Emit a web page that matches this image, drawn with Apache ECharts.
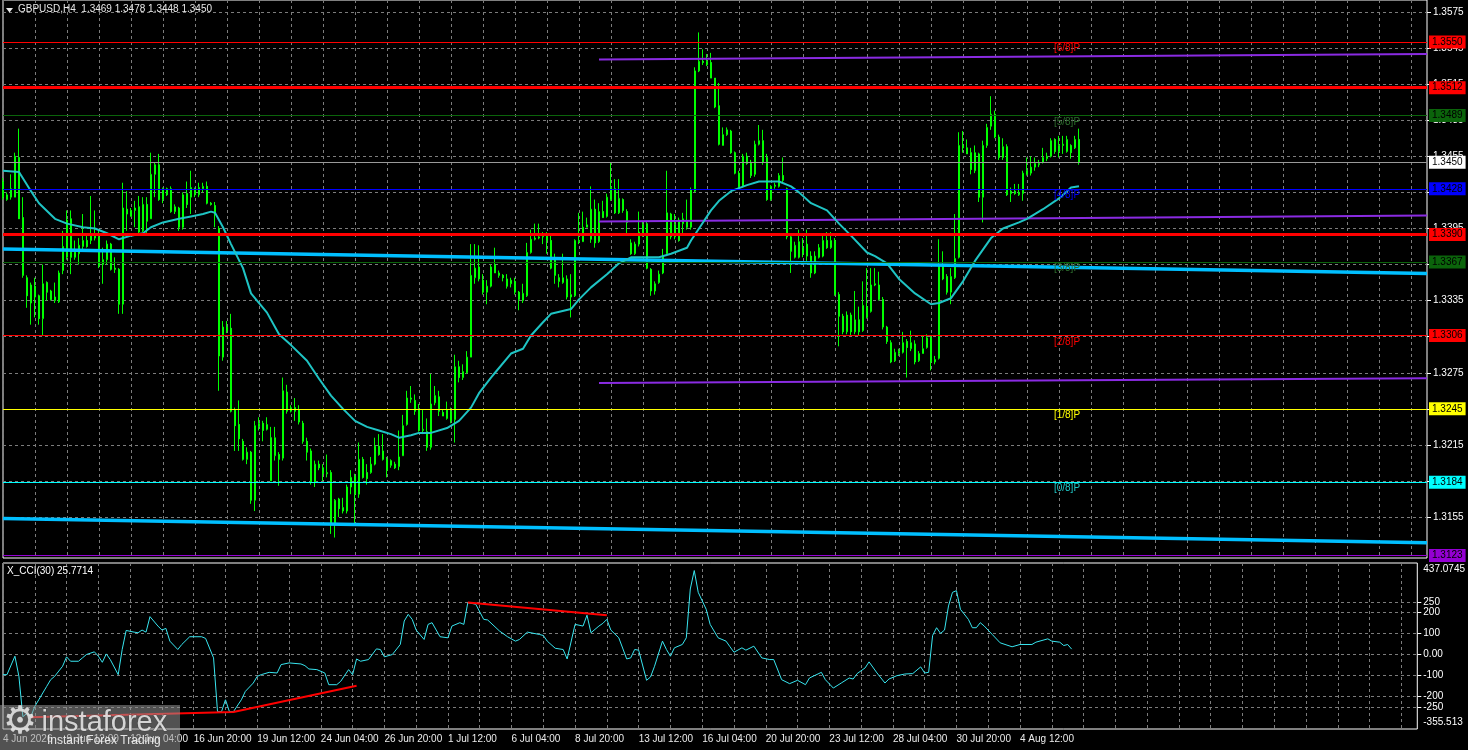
<!DOCTYPE html>
<html><head><meta charset="utf-8">
<script src="https://cdn.jsdelivr.net/npm/echarts@6/dist/echarts.min.js"></script>
<style>html,body{margin:0;padding:0;background:#000;overflow:hidden}#c{width:1468px;height:750px}</style>
</head><body><div id="c"></div>
<script>
// ---------- DATA ----------
const symbolTitle = 'GBPUSD,H4  1.3469 1.3478 1.3448 1.3450';
const cciTitle = 'X_CCI(30) 25.7714';
const slotCount = 357; // bars + empty right shift area
const timeLabels = ['4 Jun 2026','9 Jun 12:00','12 Jun 04:00','16 Jun 20:00','19 Jun 12:00','24 Jun 04:00','26 Jun 20:00','1 Jul 12:00','6 Jul 04:00','8 Jul 20:00','13 Jul 12:00','16 Jul 04:00','20 Jul 20:00','23 Jul 12:00','28 Jul 04:00','30 Jul 20:00','4 Aug 12:00'];
const opens = [1.3434,1.3419,1.3421,1.3421,1.3454,1.3404,1.3354,1.3333,1.3347,1.3339,
1.3320,1.3350,1.3343,1.3335,1.3334,1.3360,1.3371,1.3403,1.3371,1.3374,
1.3380,1.3385,1.3385,1.3389,1.3388,1.3365,1.3369,1.3382,1.3362,1.3361,
1.3332,1.3411,1.3405,1.3410,1.3413,1.3393,1.3415,1.3403,1.3440,1.3448,
1.3419,1.3428,1.3428,1.3409,1.3412,1.3396,1.3424,1.3421,1.3427,1.3423,
1.3428,1.3430,1.3416,1.3414,1.3395,1.3288,1.3313,1.3312,1.3244,1.3232,
1.3218,1.3203,1.3209,1.3169,1.3230,1.3233,1.3228,1.3221,1.3206,1.3207,
1.3204,1.3259,1.3243,1.3246,1.3244,1.3233,1.3218,1.3210,1.3184,1.3199,
1.3196,1.3191,1.3192,1.3149,1.3170,1.3160,1.3160,1.3180,1.3189,1.3174,
1.3203,1.3192,1.3192,1.3199,1.3214,1.3210,1.3203,1.3198,1.3199,1.3197,
1.3206,1.3232,1.3253,1.3252,1.3244,1.3227,1.3226,1.3213,1.3250,1.3255,
1.3242,1.3237,1.3243,1.3236,1.3280,1.3271,1.3275,1.3288,1.3354,1.3363,
1.3352,1.3342,1.3347,1.3365,1.3358,1.3356,1.3353,1.3349,1.3351,1.3342,
1.3335,1.3339,1.3375,1.3386,1.3387,1.3388,1.3389,1.3385,1.3369,1.3354,
1.3350,1.3353,1.3338,1.3339,1.3384,1.3384,1.3396,1.3386,1.3411,1.3384,
1.3409,1.3405,1.3419,1.3428,1.3408,1.3419,1.3409,1.3383,1.3374,1.3382,
1.3390,1.3399,1.3361,1.3343,1.3350,1.3358,1.3374,1.3407,1.3388,1.3402,
1.3399,1.3401,1.3396,1.3426,1.3526,1.3534,1.3531,1.3533,1.3520,1.3497,
1.3464,1.3473,1.3476,1.3458,1.3441,1.3430,1.3455,1.3450,1.3440,1.3465,
1.3468,1.3454,1.3419,1.3430,1.3430,1.3439,1.3428,1.3388,1.3371,1.3371,
1.3379,1.3372,1.3372,1.3358,1.3371,1.3372,1.3385,1.3379,1.3385,1.3340,
1.3322,1.3309,1.3323,1.3309,1.3319,1.3310,1.3330,1.3326,1.3348,1.3348,
1.3336,1.3313,1.3300,1.3285,1.3291,1.3292,1.3301,1.3295,1.3299,1.3285,
1.3291,1.3296,1.3304,1.3284,1.3287,1.3364,1.3355,1.3342,1.3354,1.3371,
1.3464,1.3462,1.3458,1.3443,1.3457,1.3421,1.3464,1.3480,1.3490,1.3471,
1.3454,1.3463,1.3424,1.3426,1.3423,1.3424,1.3440,1.3441,1.3446,1.3448,
1.3450,1.3453,1.3455,1.3469,1.3459,1.3464,1.3459,1.3464,1.3462,1.3469];
const closes = [1.3421,1.3423,1.3428,1.3455,1.3403,1.3356,1.3339,1.3348,1.3338,1.3320,
1.3349,1.3342,1.3336,1.3338,1.3358,1.3380,1.3402,1.3371,1.3376,1.3381,
1.3385,1.3380,1.3389,1.3387,1.3364,1.3369,1.3382,1.3361,1.3361,1.3332,
1.3412,1.3407,1.3410,1.3412,1.3392,1.3415,1.3401,1.3440,1.3448,1.3419,
1.3428,1.3423,1.3409,1.3413,1.3396,1.3423,1.3415,1.3429,1.3423,1.3429,
1.3430,1.3416,1.3415,1.3408,1.3289,1.3313,1.3310,1.3243,1.3231,1.3220,
1.3203,1.3209,1.3169,1.3231,1.3233,1.3227,1.3232,1.3185,1.3221,1.3203,
1.3260,1.3243,1.3246,1.3243,1.3234,1.3218,1.3209,1.3184,1.3199,1.3196,
1.3191,1.3192,1.3149,1.3169,1.3162,1.3163,1.3180,1.3188,1.3174,1.3203,
1.3188,1.3187,1.3199,1.3214,1.3207,1.3203,1.3194,1.3202,1.3196,1.3205,
1.3231,1.3254,1.3254,1.3243,1.3227,1.3228,1.3213,1.3249,1.3256,1.3243,
1.3239,1.3244,1.3235,1.3280,1.3271,1.3276,1.3288,1.3356,1.3362,1.3353,
1.3342,1.3347,1.3363,1.3358,1.3356,1.3354,1.3347,1.3352,1.3342,1.3336,
1.3341,1.3375,1.3386,1.3387,1.3388,1.3390,1.3385,1.3362,1.3356,1.3351,
1.3354,1.3338,1.3340,1.3385,1.3385,1.3396,1.3398,1.3411,1.3383,1.3409,
1.3404,1.3421,1.3429,1.3408,1.3420,1.3410,1.3400,1.3374,1.3382,1.3392,
1.3398,1.3362,1.3343,1.3349,1.3357,1.3372,1.3408,1.3388,1.3398,1.3385,
1.3403,1.3396,1.3427,1.3526,1.3534,1.3533,1.3534,1.3520,1.3496,1.3465,
1.3473,1.3477,1.3458,1.3441,1.3429,1.3455,1.3449,1.3439,1.3465,1.3468,
1.3450,1.3419,1.3430,1.3431,1.3439,1.3435,1.3388,1.3376,1.3381,1.3384,
1.3374,1.3382,1.3358,1.3372,1.3379,1.3385,1.3379,1.3385,1.3340,1.3322,
1.3309,1.3323,1.3309,1.3319,1.3309,1.3331,1.3321,1.3348,1.3349,1.3336,
1.3313,1.3301,1.3284,1.3292,1.3293,1.3300,1.3296,1.3300,1.3284,1.3291,
1.3295,1.3304,1.3284,1.3286,1.3365,1.3353,1.3342,1.3355,1.3370,1.3464,
1.3462,1.3457,1.3444,1.3458,1.3421,1.3464,1.3479,1.3490,1.3471,1.3454,
1.3463,1.3423,1.3426,1.3424,1.3425,1.3441,1.3443,1.3446,1.3449,1.3449,
1.3454,1.3455,1.3468,1.3459,1.3464,1.3465,1.3469,1.3458,1.3469,1.3450];
const lows = [1.3419,1.3418,1.3419,1.3421,1.3403,1.3354,1.3329,1.3315,1.3321,1.3315,
1.3306,1.3335,1.3335,1.3333,1.3333,1.3357,1.3369,1.3357,1.3369,1.3365,
1.3376,1.3379,1.3382,1.3385,1.3362,1.3349,1.3365,1.3360,1.3358,1.3324,
1.3324,1.3393,1.3405,1.3396,1.3391,1.3392,1.3390,1.3403,1.3421,1.3418,
1.3416,1.3422,1.3408,1.3407,1.3393,1.3394,1.3412,1.3407,1.3421,1.3421,
1.3425,1.3415,1.3414,1.3396,1.3260,1.3285,1.3308,1.3242,1.3210,1.3210,
1.3202,1.3199,1.3166,1.3160,1.3227,1.3218,1.3227,1.3185,1.3202,1.3181,
1.3202,1.3241,1.3242,1.3235,1.3232,1.3216,1.3202,1.3182,1.3180,1.3194,
1.3185,1.3188,1.3141,1.3138,1.3155,1.3158,1.3158,1.3174,1.3149,1.3171,
1.3187,1.3182,1.3191,1.3198,1.3206,1.3202,1.3188,1.3196,1.3195,1.3194,
1.3206,1.3231,1.3250,1.3240,1.3226,1.3224,1.3210,1.3211,1.3248,1.3239,
1.3239,1.3236,1.3233,1.3217,1.3267,1.3269,1.3274,1.3288,1.3349,1.3351,
1.3340,1.3332,1.3346,1.3358,1.3354,1.3351,1.3345,1.3346,1.3340,1.3327,
1.3333,1.3338,1.3374,1.3385,1.3386,1.3382,1.3374,1.3361,1.3349,1.3346,
1.3349,1.3336,1.3321,1.3338,1.3382,1.3384,1.3396,1.3383,1.3379,1.3383,
1.3404,1.3404,1.3418,1.3407,1.3407,1.3408,1.3391,1.3373,1.3373,1.3380,
1.3388,1.3361,1.3339,1.3340,1.3349,1.3357,1.3372,1.3386,1.3386,1.3384,
1.3391,1.3394,1.3394,1.3425,1.3525,1.3531,1.3530,1.3520,1.3495,1.3464,
1.3464,1.3472,1.3457,1.3440,1.3429,1.3429,1.3448,1.3437,1.3438,1.3464,
1.3448,1.3418,1.3418,1.3428,1.3429,1.3433,1.3386,1.3358,1.3370,1.3370,
1.3371,1.3368,1.3354,1.3357,1.3370,1.3371,1.3378,1.3378,1.3339,1.3297,
1.3307,1.3307,1.3306,1.3307,1.3306,1.3309,1.3320,1.3325,1.3347,1.3335,
1.3311,1.3299,1.3283,1.3284,1.3289,1.3291,1.3271,1.3293,1.3282,1.3284,
1.3291,1.3295,1.3277,1.3282,1.3286,1.3352,1.3340,1.3332,1.3353,1.3370,
1.3458,1.3457,1.3440,1.3441,1.3417,1.3400,1.3462,1.3477,1.3470,1.3452,
1.3452,1.3422,1.3417,1.3423,1.3422,1.3418,1.3439,1.3439,1.3443,1.3446,
1.3449,1.3451,1.3454,1.3457,1.3454,1.3457,1.3458,1.3453,1.3461,1.3448];
const highs = [1.3437,1.3425,1.3440,1.3458,1.3478,1.3421,1.3356,1.3350,1.3354,1.3340,
1.3365,1.3351,1.3344,1.3350,1.3360,1.3393,1.3410,1.3410,1.3385,1.3387,
1.3407,1.3390,1.3422,1.3410,1.3394,1.3379,1.3385,1.3383,1.3371,1.3362,
1.3433,1.3426,1.3412,1.3418,1.3422,1.3421,1.3421,1.3458,1.3450,1.3457,
1.3429,1.3429,1.3430,1.3415,1.3413,1.3425,1.3434,1.3443,1.3429,1.3433,
1.3433,1.3434,1.3417,1.3417,1.3397,1.3318,1.3318,1.3324,1.3246,1.3252,
1.3220,1.3213,1.3210,1.3235,1.3238,1.3235,1.3238,1.3230,1.3230,1.3209,
1.3271,1.3265,1.3248,1.3254,1.3248,1.3235,1.3221,1.3212,1.3202,1.3202,
1.3199,1.3207,1.3194,1.3170,1.3171,1.3171,1.3182,1.3194,1.3191,1.3217,
1.3205,1.3199,1.3205,1.3221,1.3224,1.3224,1.3205,1.3203,1.3201,1.3227,
1.3240,1.3260,1.3264,1.3257,1.3249,1.3244,1.3237,1.3274,1.3264,1.3260,
1.3244,1.3251,1.3246,1.3290,1.3285,1.3282,1.3293,1.3382,1.3382,1.3381,
1.3357,1.3352,1.3365,1.3379,1.3360,1.3357,1.3357,1.3354,1.3354,1.3343,
1.3349,1.3383,1.3394,1.3399,1.3399,1.3392,1.3392,1.3390,1.3374,1.3357,
1.3374,1.3356,1.3357,1.3386,1.3408,1.3409,1.3404,1.3430,1.3419,1.3416,
1.3418,1.3424,1.3450,1.3436,1.3436,1.3420,1.3411,1.3386,1.3384,1.3409,
1.3401,1.3401,1.3362,1.3351,1.3360,1.3378,1.3443,1.3408,1.3407,1.3404,
1.3408,1.3419,1.3429,1.3529,1.3558,1.3544,1.3540,1.3541,1.3520,1.3516,
1.3479,1.3479,1.3477,1.3459,1.3443,1.3457,1.3458,1.3452,1.3468,1.3481,
1.3477,1.3457,1.3431,1.3433,1.3441,1.3454,1.3429,1.3389,1.3384,1.3394,
1.3387,1.3394,1.3376,1.3376,1.3382,1.3389,1.3392,1.3392,1.3387,1.3342,
1.3324,1.3326,1.3325,1.3343,1.3330,1.3351,1.3362,1.3362,1.3362,1.3359,
1.3338,1.3314,1.3302,1.3295,1.3295,1.3309,1.3303,1.3310,1.3302,1.3293,
1.3306,1.3307,1.3306,1.3289,1.3386,1.3376,1.3357,1.3362,1.3407,1.3475,
1.3476,1.3469,1.3462,1.3464,1.3458,1.3468,1.3482,1.3505,1.3493,1.3473,
1.3470,1.3465,1.3429,1.3432,1.3432,1.3443,1.3454,1.3455,1.3454,1.3452,
1.3462,1.3458,1.3470,1.3470,1.3472,1.3472,1.3472,1.3465,1.3472,1.3478];
// moving average: [bar, price]
const maPoints = [[0,1.3443],[4,1.3442],[7,1.3426],[9,1.3416],[13,1.3403],[16,1.3399],[20,1.3396],[23,1.3395],[26,1.3391],[29,1.3386],[32,1.3389],[35,1.3391],[37,1.3396],[40,1.3400],[44,1.3403],[47,1.3405],[50,1.3407],[52,1.3409],[53,1.3408],[55,1.3396],[57,1.3382],[60,1.3362],[62,1.3341],[66,1.3325],[69,1.3307],[72,1.3298],[76,1.3285],[79,1.3270],[82,1.3256],[85,1.3245],[88,1.3235],[91,1.3230],[94,1.3227],[97,1.3224],[99,1.3221],[102,1.3223],[104,1.3225],[107,1.3225],[111,1.3229],[114,1.3235],[117,1.3246],[119,1.3258],[122,1.3271],[123,1.3275],[127,1.3291],[130,1.3295],[132,1.3306],[135,1.3317],[137,1.3324],[142,1.3328],[144,1.3336],[147,1.3346],[151,1.3357],[154,1.3366],[157,1.3371],[161,1.3371],[164,1.3371],[167,1.3374],[171,1.3379],[172,1.3385],[174,1.3395],[177,1.3410],[179,1.3418],[182,1.3426],[186,1.3431],[189,1.3434],[194,1.3434],[197,1.3430],[199,1.3425],[202,1.3416],[206,1.3410],[209,1.3399],[212,1.3389],[216,1.3375],[218,1.3372],[221,1.3366],[224,1.3353],[228,1.3341],[232,1.3332],[234,1.3333],[237,1.3337],[240,1.3351],[243,1.3368],[247,1.3387],[250,1.3395],[254,1.3400],[256,1.3403],[260,1.3411],[264,1.3420],[267,1.3429],[269,1.3430]];
// CCI(30): [bar, value]
const cciPoints = [[0,-96],[1,-96],[3,-8],[4,-104],[5,-297],[6,-281],[7,-297],[8,-248],[9,-216],[11,-152],[12,-120],[13,-104],[15,-56],[16,-11],[17,-32],[19,-32],[20,-16],[21,0],[23,13],[24,-8],[25,-37],[26,3],[27,-24],[29,-96],[30,24],[31,115],[33,107],[34,104],[35,117],[36,107],[37,181],[39,136],[40,117],[41,125],[42,64],[44,24],[45,48],[47,85],[50,85],[51,77],[53,-16],[54,-273],[55,-273],[56,-216],[57,-273],[58,-273],[60,-216],[61,-176],[63,-136],[64,-104],[65,-96],[67,-85],[69,-88],[70,-48],[72,-40],[75,-45],[76,-53],[77,-69],[79,-72],[81,-88],[82,-144],[84,-144],[85,-128],[87,-72],[88,-96],[89,-21],[90,-32],[92,-24],[94,27],[95,24],[96,-11],[98,0],[100,48],[101,160],[102,192],[103,168],[104,117],[106,72],[107,144],[108,152],[110,85],[112,80],[113,136],[115,152],[116,144],[117,248],[119,240],[121,168],[122,165],[125,112],[127,85],[129,64],[130,72],[132,107],[135,96],[136,91],[137,64],[139,30],[141,24],[142,-21],[144,144],[146,136],[147,188],[148,104],[150,136],[151,149],[152,168],[153,117],[155,80],[157,-21],[158,-16],[159,24],[160,21],[162,-123],[163,-107],[164,-56],[166,64],[167,24],[168,-8],[169,32],[171,48],[172,80],[173,313],[174,401],[175,297],[177,216],[178,144],[180,80],[182,64],[183,37],[184,11],[186,32],[187,21],[189,40],[191,-16],[193,-24],[194,-24],[196,-120],[198,-139],[200,-123],[202,-144],[203,-112],[206,-85],[207,-120],[209,-160],[211,-136],[213,-112],[214,-117],[215,-91],[217,-64],[218,-35],[220,-88],[222,-136],[223,-117],[225,-101],[227,-93],[229,-91],[231,-59],[232,-88],[233,-85],[234,91],[235,128],[236,101],[237,117],[238,232],[239,297],[240,305],[241,216],[243,168],[244,128],[245,128],[246,152],[247,136],[249,96],[251,56],[254,37],[256,48],[259,48],[260,59],[263,75],[264,64],[266,59],[267,43],[268,48],[269,25.7714]];
const cciDivergenceLow = [[7,-300],[58,-274],[89,-149]];
const cciDivergenceHigh = [[117,248],[152,188]];
const priceTicks = [1.3155,1.3185,1.3215,1.3245,1.3275,1.3305,1.3335,1.3365,1.3395,1.3425,1.3455,1.3485,1.3515,1.3545,1.3575];
const priceRange = [1.312097, 1.358496];
const cciTicks = [-250,-200,-100,0,100,200,250];
const cciRange = [-355.513, 437.0745];
const levelValues = [1.3550,1.3512,1.3489,1.3450,1.3428,1.3390,1.3367,1.3306,1.3245,1.3184,1.3123];
const murreyNames = ['[6/8]P','[5/8]P','[4/8]P','[3/8]P','[2/8]P','[1/8]P','[0/8]P'];
const murreyValues = [1.3550,1.3489,1.3428,1.3367,1.3306,1.3245,1.3184];
const trendUpper = [[0,1.33780],[356,1.33575]];
const trendLower = [[0,1.31539],[356,1.31337]];
const channelTop = [[149,1.35354],[356,1.35401]];
const channelMid = [[149,1.34007],[356,1.34057]];
const channelBottom = [[149,1.32665],[356,1.32704]];

// ---------- STYLES ----------
const FONT = '"Liberation Sans", Arial, sans-serif';
const levelStyles = [
  {line:'#ff0000', w:1, box:'#ff0000'},
  {line:'#ff0000', w:3, box:'#ff0000'},
  {line:'#0b640b', w:1, box:'#0b640b'},
  {line:'#9a9a9a', w:1, box:'#ffffff'},
  {line:'#0000ff', w:1, box:'#0000ff'},
  {line:'#ff0000', w:3, box:'#ff0000'},
  {line:'#0b640b', w:1, box:'#0b640b'},
  {line:'#ff0000', w:1, box:'#ff0000'},
  {line:'#ffff00', w:1, box:'#ffff00'},
  {line:'#00ffff', w:1, box:'#00ffff'},
  {line:'#9400d3', w:1, box:'#9400d3'}
];
const murreyColors = ['#ff0000','#2d6e2d','#0000ff','#2d6e2d','#ff0000','#ffff00','#20c8c8'];
const gridLine = {color:'#7c7c7c', type:[3,3], width:1};

const cats = Array.from({length: slotCount}, (_, i) => String(i));
const candleData = opens.map((o, i) => [o, closes[i], lows[i], highs[i]]);
const vSplit = (i) => i % 8 === 0;
const labelShown = (i) => i % 16 === 0 && i / 16 < timeLabels.length;

const markLineData = levelValues.map((v, k) => ({
  yAxis: v,
  lineStyle: {color: levelStyles[k].line, width: levelStyles[k].w, type: 'solid'},
  label: {show: true, position: 'end', distance: 2, formatter: v.toFixed(4),
    color: '#000', backgroundColor: levelStyles[k].box, padding: [2,3,1,3],
    fontSize: 10, fontFamily: FONT}
}));
const markPointData = murreyValues.map((v, k) => ({
  coord: [266, v],
  label: {show: true, position: 'bottom', distance: 1, formatter: murreyNames[k],
    color: murreyColors[k], fontSize: 10, fontFamily: FONT}
}));

const chart = echarts.init(document.getElementById('c'), null, {renderer: 'canvas'});
chart.setOption({
  backgroundColor: '#000',
  animation: false,
  grid: [
    {left: 3, right: 41, top: -1, height: 559, show: true, borderColor: '#ffffff', borderWidth: 1, backgroundColor: 'transparent'},
    {left: 3, right: 41, top: 563, height: 166, show: true, borderColor: '#ffffff', borderWidth: 1, backgroundColor: 'transparent'}
  ],
  xAxis: [
    {type: 'category', gridIndex: 0, data: cats, boundaryGap: false,
      axisLine: {show: false}, axisTick: {show: false}, axisLabel: {show: false},
      splitLine: {show: true, interval: vSplit, lineStyle: gridLine}},
    {type: 'category', gridIndex: 1, data: cats, boundaryGap: false,
      axisLine: {show: false}, axisTick: {show: false},
      axisLabel: {show: true, interval: labelShown, align: 'left', margin: 5,
        color: '#ececec', fontSize: 10, fontFamily: FONT,
        formatter: (v, i) => timeLabels[Math.round(i / 16)] || ''},
      splitLine: {show: true, interval: vSplit, lineStyle: gridLine}}
  ],
  yAxis: [
    {type: 'value', gridIndex: 0, position: 'right', min: priceRange[0], max: priceRange[1],
      axisLine: {show: false},
      axisTick: {show: true, customValues: priceTicks, length: 4, lineStyle: {color: '#fff'}},
      axisLabel: {show: true, customValues: priceTicks, margin: 6, color: '#fff', fontSize: 10, fontFamily: FONT,
        formatter: (v) => Number(v).toFixed(4)},
      splitLine: {show: true, lineStyle: gridLine}},
    {type: 'value', gridIndex: 1, position: 'right', min: cciRange[0], max: cciRange[1],
      axisLine: {show: false},
      axisTick: {show: true, customValues: cciTicks, length: 4, lineStyle: {color: '#fff'}},
      axisLabel: {show: true, customValues: [cciRange[0]].concat(cciTicks, [cciRange[1]]), margin: 6,
        color: '#fff', fontSize: 10, fontFamily: FONT,
        formatter: (v) => {
          if (Math.abs(v - cciRange[1]) < 1e-6) return '{t|' + cciRange[1] + '}';
          if (Math.abs(v - cciRange[0]) < 1e-6) return '{b|' + cciRange[0] + '}';
          if (v === 0) return '0.00';
          return String(v);
        },
        rich: {
          t: {padding: [13,0,0,0], color: '#fff', fontSize: 10, fontFamily: FONT},
          b: {padding: [0,0,13,0], color: '#fff', fontSize: 10, fontFamily: FONT}
        }},
      splitLine: {show: true, lineStyle: gridLine}}
  ],
  series: [
    {type: 'candlestick', xAxisIndex: 0, yAxisIndex: 0, data: candleData, barWidth: 2,
      itemStyle: {color: '#000000', color0: '#ffffff', borderColor: '#00ff00', borderColor0: '#00ff00', borderColorDoji: '#00ff00', borderWidth: 1},
      markLine: {silent: true, symbol: 'none', animation: false, precision: 6, data: markLineData},
      markPoint: {silent: true, symbol: 'rect', symbolSize: 1, itemStyle: {color: 'rgba(0,0,0,0)'}, data: markPointData}
    },
    {type: 'line', xAxisIndex: 0, yAxisIndex: 0, data: trendUpper, symbol: 'none', silent: true,
      lineStyle: {color: '#00bfff', width: 3.5}},
    {type: 'line', xAxisIndex: 0, yAxisIndex: 0, data: trendLower, symbol: 'none', silent: true,
      lineStyle: {color: '#00bfff', width: 3.5}},
    {type: 'line', xAxisIndex: 0, yAxisIndex: 0, data: channelTop, symbol: 'none', silent: true,
      lineStyle: {color: '#8a2be2', width: 2}},
    {type: 'line', xAxisIndex: 0, yAxisIndex: 0, data: channelMid, symbol: 'none', silent: true,
      lineStyle: {color: '#8a2be2', width: 2}},
    {type: 'line', xAxisIndex: 0, yAxisIndex: 0, data: channelBottom, symbol: 'none', silent: true,
      lineStyle: {color: '#8a2be2', width: 2}},
    {type: 'line', xAxisIndex: 0, yAxisIndex: 0, data: maPoints, symbol: 'none', silent: true,
      lineStyle: {color: '#1fc4c4', width: 2}},
    {type: 'line', xAxisIndex: 1, yAxisIndex: 1, data: cciPoints, symbol: 'none', silent: true,
      lineStyle: {color: '#38e6f0', width: 1}},
    {type: 'line', xAxisIndex: 1, yAxisIndex: 1, data: cciDivergenceLow, symbol: 'none', silent: true,
      lineStyle: {color: '#ff0000', width: 2}},
    {type: 'line', xAxisIndex: 1, yAxisIndex: 1, data: cciDivergenceHigh, symbol: 'none', silent: true,
      lineStyle: {color: '#ff0000', width: 2}}
  ],
  graphic: [
    {type: 'polygon', shape: {points: [[6,8],[13,8],[9.5,12.5]]}, style: {fill: '#e8e8e8'}, z: 100},
    {type: 'text', left: 18, top: 4, style: {text: symbolTitle, fill: '#e8e8e8', fontSize: 10, fontFamily: FONT}, z: 100},
    {type: 'text', left: 7, top: 566, style: {text: cciTitle, fill: '#ffffff', fontSize: 10, fontFamily: FONT}, z: 100},
    {type: 'rect', shape: {x: 0, y: 705, width: 180, height: 45}, style: {fill: 'rgba(150,150,150,0.55)'}, z: 100},
    {type: 'text', left: 3, top: 704, style: {text: '\u2699', fill: 'rgba(235,235,235,0.85)', fontSize: 38, fontFamily: '"DejaVu Sans", sans-serif'}, z: 101},
    {type: 'text', left: 41, top: 708, style: {text: 'instaforex', fill: 'rgba(235,235,235,0.85)', stroke: 'rgba(60,60,60,0.6)', lineWidth: 1, fontSize: 29, fontFamily: FONT}, z: 101},
    {type: 'text', left: 47, top: 735, style: {text: 'Instant Forex Trading', fill: 'rgba(245,245,245,0.9)', fontSize: 12, fontFamily: FONT}, z: 101}
  ]
});
</script>
</body></html>
